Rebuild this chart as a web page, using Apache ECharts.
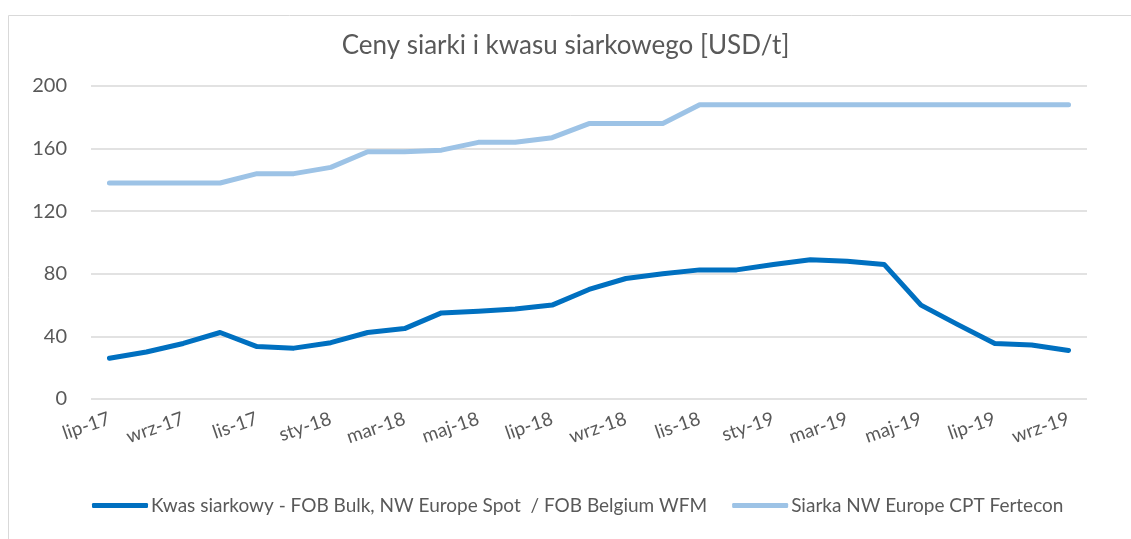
<!DOCTYPE html>
<html>
<head>
<meta charset="utf-8">
<script src="https://cdn.jsdelivr.net/npm/echarts@6/dist/echarts.min.js"></script>
<style>
  html, body { margin: 0; padding: 0; background: #fff; }
  #chart { width: 1131px; height: 539px; }
</style>
</head>
<body>
<div id="chart"></div>
<script>
  // miesiące lip-17 .. wrz-19
  var months = ['lip-17', 'sie-17', 'wrz-17', 'paź-17', 'lis-17', 'gru-17',
    'sty-18', 'lut-18', 'mar-18', 'kwi-18', 'maj-18', 'cze-18',
    'lip-18', 'sie-18', 'wrz-18', 'paź-18', 'lis-18', 'gru-18',
    'sty-19', 'lut-19', 'mar-19', 'kwi-19', 'maj-19', 'cze-19',
    'lip-19', 'sie-19', 'wrz-19'];

  var kwasName = 'Kwas siarkowy - FOB Bulk, NW Europe Spot  / FOB Belgium WFM';
  var kwas = [26, 30, 35.5, 42.5, 33.5, 32.5, 36, 42.5, 45, 55, 56, 57.5,
    60, 70, 77, 80, 82.5, 82.5, 86, 89, 88, 86, 60, 47.5, 35.5, 34.5, 31];

  var siarkaName = 'Siarka NW Europe CPT Fertecon';
  var siarka = [138, 138, 138, 138, 144, 144, 148, 158, 158, 159, 164, 164,
    167, 176, 176, 176, 188, 188, 188, 188, 188, 188, 188, 188, 188, 188, 188];

  var yTicks = [0, 40, 80, 120, 160, 200];

  var font = 'Lato, "Open Sans", sans-serif';
  var gray = '#595959';

  var chart = echarts.init(document.getElementById('chart'));
  chart.setOption({
    animation: false,
    textStyle: { fontFamily: font },
    graphic: [{
      type: 'rect',
      shape: { x: 8.5, y: 15.5, width: 1200, height: 600 },
      style: { fill: 'none', stroke: '#d9d9d9', lineWidth: 1 },
      silent: true
    }],
    title: {
      text: 'Ceny siarki i kwasu siarkowego [USD/t]',
      left: 'center',
      top: 28,
      textStyle: { fontFamily: font, fontSize: 26, fontWeight: 'normal', color: gray }
    },
    legend: {
      bottom: 19,
      left: 87,
      itemWidth: 56,
      itemHeight: 5,
      itemGap: 25,
      textStyle: { fontFamily: font, fontSize: 19, color: gray, padding: [0, 0, 0, -2] },
      data: [
        { name: kwasName, icon: 'roundRect' },
        { name: siarkaName, icon: 'roundRect' }
      ]
    },
    grid: { left: 91, right: 44, top: 86, bottom: 140 },
    xAxis: {
      type: 'category',
      data: months,
      boundaryGap: true,
      axisLine: { show: false },
      axisTick: { show: false },
      axisLabel: {
        interval: 1,
        rotate: 19,
        margin: 19,
        fontSize: 19,
        color: gray,
        fontFamily: font
      }
    },
    yAxis: {
      type: 'value',
      min: yTicks[0],
      max: yTicks[yTicks.length - 1],
      interval: 40,
      axisLine: { show: false },
      axisTick: { show: false },
      axisLabel: { fontSize: 20, color: gray, margin: 24, fontFamily: font },
      splitLine: { lineStyle: { color: '#d9d9d9', width: 1.5 } }
    },
    series: [
      {
        name: kwasName,
        type: 'line',
        data: kwas,
        symbol: 'none',
        lineStyle: { color: '#0070c0', width: 5, cap: 'round', join: 'round' },
        itemStyle: { color: '#0070c0' }
      },
      {
        name: siarkaName,
        type: 'line',
        data: siarka,
        symbol: 'none',
        lineStyle: { color: '#9dc3e6', width: 5, cap: 'round', join: 'round' },
        itemStyle: { color: '#9dc3e6' }
      }
    ]
  });
</script>
</body>
</html>
